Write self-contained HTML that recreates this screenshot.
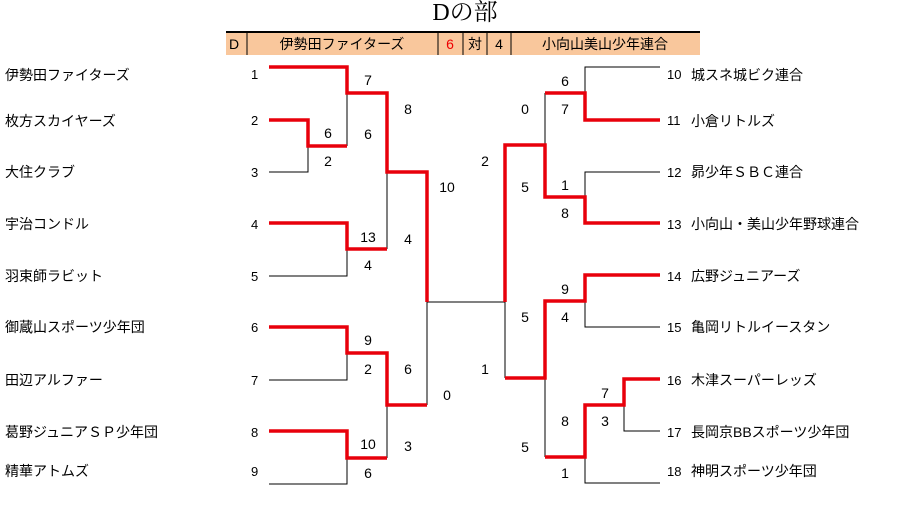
<!DOCTYPE html>
<html><head><meta charset="utf-8"><style>
body{margin:0;background:#fff;width:905px;height:506px;overflow:hidden}
svg{display:block}
text{font-family:"Liberation Sans","Noto Sans CJK JP",sans-serif;fill:#000}
.n{font-size:14px}
.s{font-size:13px}
.c{font-size:14px;text-anchor:middle}
</style></head><body>
<svg width="905" height="506" viewBox="0 0 905 506">
<text x="465" y="20" style="font-family:'Liberation Serif','Noto Serif CJK SC',serif;font-size:24px;text-anchor:middle">Dの部</text>
<rect x="226" y="32" width="474" height="23" fill="#f9c79c"/>
<line x1="226" y1="32" x2="700" y2="32" stroke="#000" stroke-width="2"/>
<g stroke="#000" stroke-width="1">
<line x1="247" y1="32" x2="247" y2="55"/><line x1="438" y1="32" x2="438" y2="55"/>
<line x1="463" y1="32" x2="463" y2="55"/><line x1="487" y1="32" x2="487" y2="55"/>
<line x1="511" y1="32" x2="511" y2="55"/>
</g>
<text x="229" y="49" class="n">D</text>
<text x="342" y="49" class="c">伊勢田ファイターズ</text>
<text x="450" y="49" class="c" style="fill:#e00">6</text>
<text x="475" y="49" class="c">対</text>
<text x="499" y="49" class="c">4</text>
<text x="605" y="49" class="c">小向山美山少年連合</text>

<g class="n">
<text x="5" y="80">伊勢田ファイターズ</text>
<text x="5" y="126">枚方スカイヤーズ</text>
<text x="5" y="177">大住クラブ</text>
<text x="5" y="229">宇治コンドル</text>
<text x="5" y="281">羽束師ラビット</text>
<text x="5" y="332">御蔵山スポーツ少年団</text>
<text x="5" y="385">田辺アルファー</text>
<text x="5" y="437">葛野ジュニアＳＰ少年団</text>
<text x="5" y="476">精華アトムズ</text>
<text x="691" y="80">城スネ城ビク連合</text>
<text x="691" y="126">小倉リトルズ</text>
<text x="691" y="177">昴少年ＳＢＣ連合</text>
<text x="691" y="229">小向山・美山少年野球連合</text>
<text x="691" y="281">広野ジュニアーズ</text>
<text x="691" y="332">亀岡リトルイースタン</text>
<text x="691" y="385">木津スーパーレッズ</text>
<text x="691" y="437">長岡京BBスポーツ少年団</text>
<text x="691" y="476">神明スポーツ少年団</text>
</g>
<g class="s">
<text x="251" y="79">1</text><text x="251" y="125">2</text><text x="251" y="177">3</text>
<text x="251" y="229">4</text><text x="251" y="281">5</text><text x="251" y="332">6</text>
<text x="251" y="385">7</text><text x="251" y="437">8</text><text x="251" y="476">9</text>
<text x="667" y="79">10</text><text x="667" y="125">11</text><text x="667" y="177">12</text>
<text x="667" y="229">13</text><text x="667" y="281">14</text><text x="667" y="332">15</text>
<text x="667" y="385">16</text><text x="667" y="437">17</text><text x="667" y="476">18</text>
</g>

<g fill="none" stroke="#000" stroke-width="1">
<polyline points="269,172 308,172 308,146"/>
<polyline points="347,93 347,146"/>
<polyline points="269,276 347,276 347,249"/>
<polyline points="387,172 387,249"/>
<polyline points="269,380 347,380 347,353"/>
<polyline points="269,484 347,484 347,458"/>
<polyline points="387,405 387,458"/>
<polyline points="427,302 427,405"/>
<polyline points="427,302 505,302 505,378"/>
<polyline points="660,67 585,67 585,93"/>
<polyline points="545,93 545,145"/>
<polyline points="660,172 585,172 585,197"/>
<polyline points="660,327 585,327 585,301"/>
<polyline points="660,431 624,431 624,405"/>
<polyline points="660,483 585,483 585,457"/>
<polyline points="545,378 545,457"/>
</g>
<g fill="none" stroke="#e8000b" stroke-width="3.5" stroke-linejoin="miter">
<polyline points="269,67 347,67 347,93 387,93 387,172 427,172 427,302"/>
<polyline points="269,120 308,120 308,146 347,146"/>
<polyline points="269,223 347,223 347,249 387,249"/>
<polyline points="269,327 347,327 347,353 387,353 387,405 427,405"/>
<polyline points="269,431 347,431 347,458 387,458"/>
<polyline points="505,302 505,145 545,145 545,197 585,197 585,223 660,223"/>
<polyline points="545,93 585,93 585,120 660,120"/>
<polyline points="505,378 545,378 545,301 585,301 585,275 660,275"/>
<polyline points="545,457 585,457 585,405 624,405 624,379 660,379"/>
</g>

<g class="c">
<text x="368" y="85">7</text><text x="328" y="138">6</text><text x="368" y="139">6</text>
<text x="328" y="166">2</text><text x="408" y="114">8</text><text x="368" y="242">13</text>
<text x="408" y="244">4</text><text x="368" y="270">4</text><text x="447" y="192">10</text>
<text x="368" y="345">9</text><text x="368" y="374">2</text><text x="408" y="374">6</text>
<text x="368" y="449">10</text><text x="368" y="478">6</text><text x="408" y="451">3</text>
<text x="447" y="400">0</text>
<text x="565" y="86">6</text><text x="525" y="114">0</text><text x="565" y="114">7</text>
<text x="485" y="166">2</text><text x="525" y="192">5</text><text x="565" y="190">1</text>
<text x="565" y="218">8</text><text x="565" y="294">9</text><text x="525" y="322">5</text>
<text x="565" y="322">4</text><text x="485" y="374">1</text><text x="605" y="398">7</text>
<text x="565" y="426">8</text><text x="605" y="426">3</text><text x="525" y="452">5</text>
<text x="565" y="478">1</text>
</g>
</svg>
</body></html>
